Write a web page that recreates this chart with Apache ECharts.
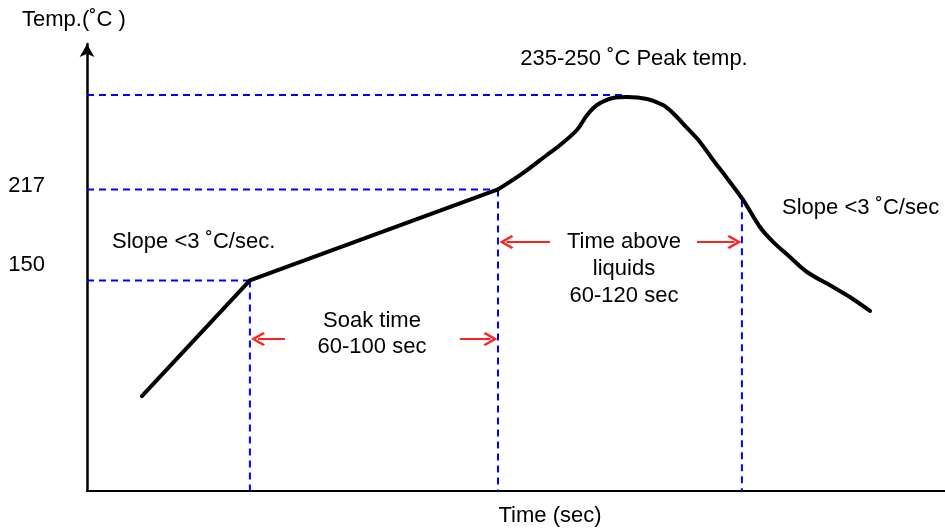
<!DOCTYPE html>
<html>
<head>
<meta charset="utf-8">
<script src="https://cdn.jsdelivr.net/npm/echarts@6/dist/echarts.min.js"></script>
<style>
  html, body { margin: 0; padding: 0; background: #fff; }
  #chart { width: 945px; height: 530px; }
</style>
</head>
<body>
<div id="chart"></div>
<script>
// reflow profile sketch, time in sec / temperature in ˚C (schematic values)
var rampTime = [18.3, 54.3, 137]
var rampTemp = [64.9, 150, 217]
var reflowTime = [137, 145.3, 153.3, 157.7, 163.3, 166.7, 170, 175.3, 180, 186.7, 192, 195.3, 200, 204.3, 208.7, 213.3, 218.7, 224.3, 228.7, 234.3, 240, 248.7, 254.3, 261]
var reflowTemp = [217, 229, 242.3, 249.7, 260.7, 271.7, 279.1, 284.3, 285, 283.5, 279.1, 273.2, 262.2, 251.9, 238.6, 225.4, 209.2, 189.3, 178.3, 167.2, 156.2, 145.1, 137.8, 127.5]
var tempTicks = [150, 217]
var soakStart = 54.3
var soakEnd = 137
var liquidEnd = 218.3
var liquidEndTemp = 209
var peakTime = 180
var peakTemp = 286.5
var soakArrowTemp = 106.9
var liquidArrowTemp = 178.3
// [tail, head] times; the head sits half an arrowhead short of the dashed line
var soakArrows = [[66, 57], [124.3, 134.5]]
var liquidArrows = [[154.3, 139.8], [203.3, 215.8]]

var tMin = 0, tMax = 286, yMin = -5, yMax = 324
var font = 'Liberation Sans, Arial, sans-serif'
var chevron = 'path://M5,0 L10,7 L8.7,8 L5,2.7 L1.3,8 L0,7 Z'

var chart = echarts.init(document.getElementById('chart'), null, {renderer: 'canvas'})

var guides = [
  [[tMin, peakTemp], [peakTime, peakTemp]],
  [[tMin, 217], [soakEnd, 217]],
  [[tMin, 150], [soakStart, 150]],
  [[soakStart, 150], [soakStart, yMin]],
  [[soakEnd, 217], [soakEnd, yMin]],
  [[liquidEnd, liquidEndTemp], [liquidEnd, yMin]]
]

var series = guides.map(function (g) {
  return {
    type: 'line',
    data: g,
    symbol: 'none',
    silent: true,
    z: 1,
    lineStyle: {color: '#0000ff', width: 2, type: [7, 5]}
  }
})

var arrowData = []
soakArrows.forEach(function (a) {
  arrowData.push([{coord: [a[0], soakArrowTemp]}, {coord: [a[1], soakArrowTemp]}])
})
liquidArrows.forEach(function (a) {
  arrowData.push([{coord: [a[0], liquidArrowTemp]}, {coord: [a[1], liquidArrowTemp]}])
})

series.push({
  type: 'line',
  data: rampTime.map(function (t, i) { return [t, rampTemp[i]] }),
  symbol: 'none',
  z: 3,
  lineStyle: {color: '#000', width: 4, cap: 'round', join: 'round'},
  markLine: {
    silent: true,
    symbol: ['none', chevron],
    symbolSize: [14, 14],
    label: {show: false},
    lineStyle: {color: '#ff2020', width: 2, type: 'solid'},
    data: arrowData
  }
})

series.push({
  type: 'line',
  data: reflowTime.map(function (t, i) { return [t, reflowTemp[i]] }),
  symbol: 'none',
  smooth: 0.35,
  z: 3,
  lineStyle: {color: '#000', width: 4, cap: 'round', join: 'round'}
})

var textStyle = {fontFamily: font, fontSize: 22, fill: '#000'}
function label (x, y, text, align, lh) {
  return {
    type: 'text',
    x: x,
    y: y,
    style: Object.assign({}, textStyle, {text: text, align: align || 'center', verticalAlign: 'middle', lineHeight: lh || 26})
  }
}

var option = {
  animation: false,
  grid: {left: 87, right: 0, top: 44, bottom: 39, containLabel: false, outerBoundsMode: 'none'},
  xAxis: {
    type: 'value',
    min: tMin,
    max: tMax,
    name: 'Time (sec)',
    nameLocation: 'middle',
    nameGap: 14,
    nameTextStyle: {fontFamily: font, fontSize: 22, color: '#000', padding: [0, 0, 0, 68]},
    axisLine: {show: true, onZero: false, lineStyle: {color: '#000', width: 2}},
    axisTick: {show: false},
    axisLabel: {show: false},
    splitLine: {show: false}
  },
  yAxis: {
    type: 'value',
    min: yMin,
    max: yMax,
    name: 'Temp.(˚C )',
    nameLocation: 'end',
    nameGap: 13,
    nameTextStyle: {fontFamily: font, fontSize: 22, color: '#000', align: 'center', padding: [0, 26, 0, 0]},
    axisLine: {
      show: true,
      onZero: false,
      symbol: ['none', 'arrow'],
      symbolSize: [11, 13],
      lineStyle: {color: '#000', width: 2.5}
    },
    axisTick: {show: false},
    splitLine: {show: false},
    axisLabel: {
      customValues: tempTicks,
      margin: 42,
      fontFamily: font,
      fontSize: 22,
      color: '#000',
      formatter: function (v) { return v === 150 ? '{b|150}' : '{a|' + v + '}' },
      rich: {
        a: {fontFamily: font, fontSize: 22, color: '#000', padding: [0, 0, 6, 0]},
        b: {fontFamily: font, fontSize: 22, color: '#000', padding: [0, 0, 30, 0]}
      }
    }
  },
  graphic: [
    label(634, 59, '235-250 ˚C Peak temp.'),
    label(112, 242, 'Slope <3 ˚C/sec.', 'left'),
    label(782, 208, 'Slope <3 ˚C/sec', 'left'),
    label(372, 334, 'Soak time\n60-100 sec'),
    label(624, 269, 'Time above\nliquids\n60-120 sec', 'center', 27)
  ],
  series: series
}

chart.setOption(option)
</script>
</body>
</html>
